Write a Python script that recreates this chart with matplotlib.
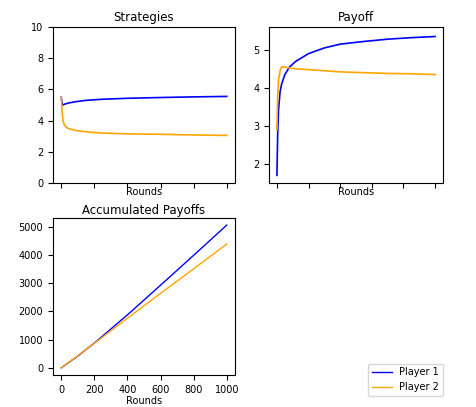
import matplotlib.pyplot as plt

strat_rounds = [0, 5, 10, 20, 40, 80, 150, 250, 400, 600, 800, 1000]
strat_p1 = [5.5, 5.1, 5.0, 5.05, 5.12, 5.2, 5.3, 5.37, 5.43, 5.48, 5.52, 5.55]
strat_p2 = [5.5, 4.6, 4.0, 3.7, 3.5, 3.38, 3.28, 3.2, 3.15, 3.12, 3.08, 3.05]

pay_rounds = [0, 5, 10, 20, 30, 50, 80, 120, 200, 300, 400, 550, 700, 850, 1000]
pay_p1 = [1.7, 2.8, 3.4, 3.9, 4.1, 4.35, 4.55, 4.7, 4.9, 5.05, 5.15, 5.22, 5.28, 5.32, 5.35]
pay_p2 = [2.9, 3.8, 4.2, 4.45, 4.55, 4.55, 4.52, 4.5, 4.48, 4.45, 4.42, 4.4, 4.38, 4.37, 4.35]

acc_rounds = [0, 100, 200, 400, 600, 800, 1000]
acc_p1 = [0, 420, 880, 1880, 2930, 3990, 5060]
acc_p2 = [0, 430, 870, 1760, 2640, 3510, 4390]

BLUE = "#0000ff"
ORANGE = "#ffa500"

fig = plt.figure(figsize=(4.76, 4.07), dpi=100)
ax1 = fig.add_axes([53 / 476, 1 - 183 / 407, 182 / 476, 156 / 407])
ax2 = fig.add_axes([269 / 476, 1 - 183 / 407, 174 / 476, 156 / 407])
ax3 = fig.add_axes([53 / 476, 1 - 375 / 407, 182 / 476, 157 / 407])

ax1.plot(strat_rounds, strat_p1, color=BLUE, lw=1.2)
ax1.plot(strat_rounds, strat_p2, color=ORANGE, lw=1.2)
ax1.set_ylim(0, 10)
ax1.set_title("Strategies", fontsize=8.5, pad=4)

ax2.plot(pay_rounds, pay_p1, color=BLUE, lw=1.2)
ax2.plot(pay_rounds, pay_p2, color=ORANGE, lw=1.2)
ax2.set_ylim(1.5, 5.6)
ax2.set_yticks([2, 3, 4, 5])
ax2.set_title("Payoff", fontsize=8.5, pad=4)

for ax in (ax1, ax2):
    ax.set_xticks(range(0, 1001, 200))
    ax.set_xticklabels([])
    ax.set_xlabel("Rounds", fontsize=7, labelpad=-4)

ax3.plot(acc_rounds, acc_p1, color=BLUE, lw=1, label="Player 1")
ax3.plot(acc_rounds, acc_p2, color=ORANGE, lw=1, label="Player 2")
ax3.set_xticks(range(0, 1001, 200))
ax3.set_xlabel("Rounds", fontsize=7, labelpad=1)
ax3.set_title("Accumulated Payoffs", fontsize=8.5, pad=3)

for ax in (ax1, ax2, ax3):
    ax.tick_params(labelsize=7)

handles, labels = ax3.get_legend_handles_labels()
fig.legend(handles, labels, loc="lower right", bbox_to_anchor=(448 / 476, 6 / 407),
           fontsize=7)

fig.savefig("out.png", dpi=100)
